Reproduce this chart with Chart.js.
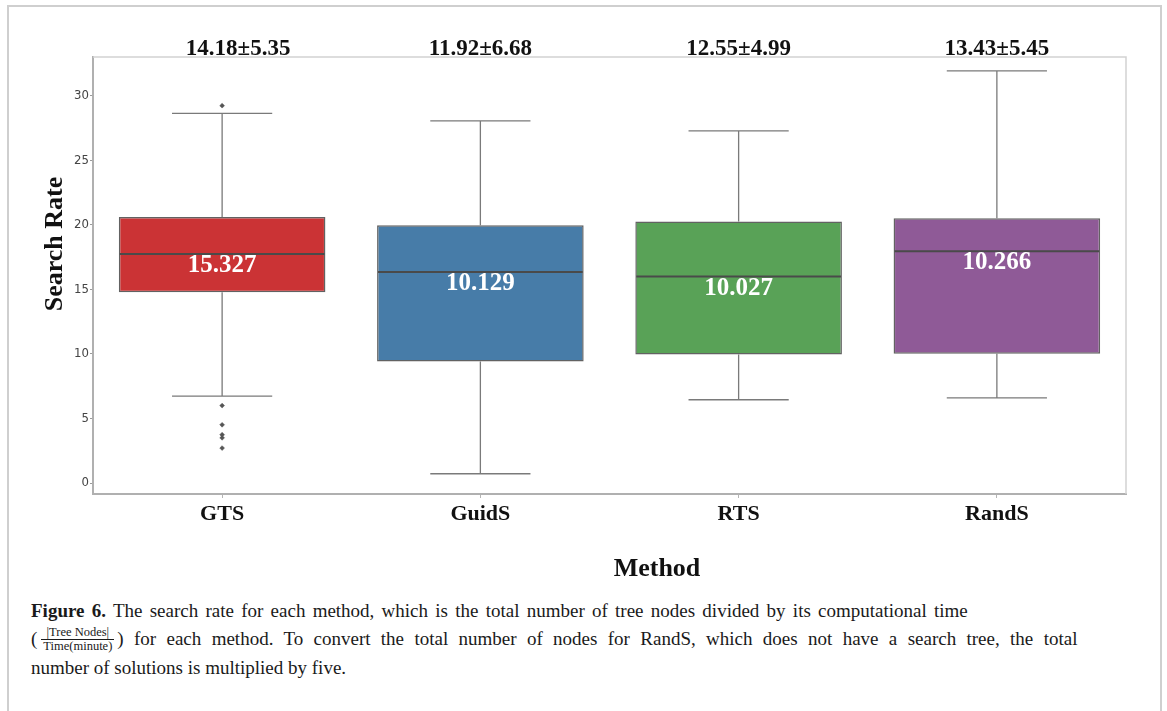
<!DOCTYPE html>
<html>
<head>
<meta charset="utf-8">
<script src="https://cdn.jsdelivr.net/npm/chart.js@4.4.1/dist/chart.umd.min.js"></script>
<style>
  html, body { margin: 0; padding: 0; background: #ffffff; }
  body { width: 1167px; height: 711px; position: relative; overflow: hidden; }
  #frame {
    position: absolute; left: 7px; top: 5px; width: 1155px; height: 720px;
    border: 2px solid #cfcfcf; box-sizing: border-box;
  }
  #wrap { position: absolute; left: 0; top: 0; width: 1167px; height: 590px; }
  #caption {
    position: absolute; left: 31px; top: 597px; width: 1125px;
    font-family: "Liberation Serif", serif; font-size: 19px;
    line-height: 28px; color: #1a1a1a; white-space: nowrap;
  }
  #caption b { font-weight: bold; }
  #caption .l1 { word-spacing: 2.5px; }
  #caption .l2 { word-spacing: 5.6px; }
  .frac {
    display: inline-block; vertical-align: middle; text-align: center; word-spacing: 0;
    font-size: 12.5px; line-height: 13px; margin: 0 3px 0 4px; position: relative; top: -1px;
  }
  .frac .num { display: block; border-bottom: 1px solid #1a1a1a; padding: 0 2px; }
  .frac .den { display: block; padding: 0 2px; }
</style>
</head>
<body>
<div id="frame"></div>
<div id="wrap"><canvas id="chart" width="1167" height="590"></canvas></div>
<div id="caption">
  <div class="l1"><b>Figure 6.</b> The search rate for each method, which is the total number of tree nodes divided by its computational time</div>
  <div class="l2">(<span class="frac"><span class="num">|Tree Nodes|</span><span class="den">Time(minute)</span></span>) for each method. To convert the total number of nodes for RandS, which does not have a search tree, the total</div>
  <div class="l3">number of solutions is multiplied by five.</div>
</div>
<script>
// Methods compared
const methods = ['GTS', 'GuidS', 'RTS', 'RandS'];

// Box-plot summary of the search rate per method
const whiskerLow  = [6.73, 0.72, 6.45, 6.60];
const quartile1   = [14.78, 9.41, 9.95, 10.02];
const medians     = [17.75, 16.35, 15.99, 17.96];
const quartile3   = [20.60, 19.97, 20.25, 20.51];
const whiskerHigh = [28.64, 28.05, 27.27, 31.93];

// Outlying runs (GTS only)
const outlierMethod = ['GTS', 'GTS', 'GTS', 'GTS', 'GTS', 'GTS'];
const outlierValue  = [29.23, 6.00, 4.51, 3.74, 3.50, 2.71];

// Mean ± standard deviation printed above each box
const means = [14.18, 11.92, 12.55, 13.43];
const stds  = [5.35, 6.68, 4.99, 5.45];

// Value printed inside each box
const boxValues = ['15.327', '10.129', '10.027', '10.266'];

// Y-axis tick values
const yTicks = [0, 5, 10, 15, 20, 25, 30];

const boxColors = ['#CB3335', '#477CA8', '#59A257', '#8F5A97'];

const serifBold = '"Liberation Serif", "DejaVu Serif", serif';

const boxPlotPlugin = {
  id: 'boxPlotParts',
  beforeDatasetsDraw(chart) {
    const { ctx, chartArea, scales } = chart;
    const y = scales.y;
    ctx.save();
    // light frame on the top and right of the plotting area
    ctx.strokeStyle = '#d2d2d2';
    ctx.lineWidth = 1.5;
    ctx.beginPath();
    ctx.moveTo(chartArea.left, chartArea.top);
    ctx.lineTo(chartArea.right, chartArea.top);
    ctx.lineTo(chartArea.right, chartArea.bottom);
    ctx.stroke();

    // whiskers and caps
    const bars = chart.getDatasetMeta(0).data;
    ctx.strokeStyle = '#7a7a7a';
    ctx.lineWidth = 1.3;
    bars.forEach((bar, i) => {
      const half = bar.width / 2;
      const capHalf = half * 0.485;
      const yLo = y.getPixelForValue(whiskerLow[i]);
      const yQ1 = y.getPixelForValue(quartile1[i]);
      const yQ3 = y.getPixelForValue(quartile3[i]);
      const yHi = y.getPixelForValue(whiskerHigh[i]);
      ctx.beginPath();
      ctx.moveTo(bar.x, yQ3); ctx.lineTo(bar.x, yHi);
      ctx.moveTo(bar.x, yQ1); ctx.lineTo(bar.x, yLo);
      ctx.moveTo(bar.x - capHalf, yHi); ctx.lineTo(bar.x + capHalf, yHi);
      ctx.moveTo(bar.x - capHalf, yLo); ctx.lineTo(bar.x + capHalf, yLo);
      ctx.stroke();
    });
    ctx.restore();
  },
  afterDatasetsDraw(chart) {
    const { ctx, chartArea, scales } = chart;
    const y = scales.y;
    const bars = chart.getDatasetMeta(0).data;
    ctx.save();
    bars.forEach((bar, i) => {
      const half = bar.width / 2;
      const yMed = y.getPixelForValue(medians[i]);
      // median line
      ctx.strokeStyle = '#4a4a4a';
      ctx.lineWidth = 2;
      ctx.beginPath();
      ctx.moveTo(bar.x - half + 1, yMed);
      ctx.lineTo(bar.x + half - 1, yMed);
      ctx.stroke();
      // value inside the box
      ctx.fillStyle = '#ffffff';
      ctx.font = 'bold 25px ' + serifBold;
      ctx.textAlign = 'center';
      ctx.textBaseline = 'alphabetic';
      ctx.fillText(boxValues[i], bar.x, yMed + 18);
      // mean ± std above the plot
      ctx.fillStyle = '#111111';
      ctx.font = 'bold 23px ' + serifBold;
      ctx.fillText(means[i].toFixed(2) + '\u00B1' + stds[i].toFixed(2), bar.x + (i === 0 ? 16 : 0), chartArea.top - 2.5);
    });

    // axis titles
    ctx.fillStyle = '#111111';
    ctx.font = 'bold 26px ' + serifBold;
    ctx.textAlign = 'center';
    ctx.textBaseline = 'middle';
    ctx.fillText('Method', 657, 569);
    ctx.translate(55, 244);
    ctx.rotate(-Math.PI / 2);
    ctx.fillText('Search Rate', 0, 0);
    ctx.restore();
  }
};

const chart = new Chart(document.getElementById('chart'), {
  type: 'bar',
  data: {
    labels: methods,
    datasets: [
      {
        type: 'bar',
        data: methods.map((m, i) => [quartile1[i], quartile3[i]]),
        backgroundColor: boxColors,
        borderColor: '#626262',
        borderWidth: 1.5,
        borderSkipped: false,
        categoryPercentage: 0.8,
        barPercentage: 1.0,
        grouped: false,
        order: 2
      },
      {
        type: 'scatter',
        data: outlierMethod.map((m, i) => ({ x: m, y: outlierValue[i] })),
        pointStyle: 'rectRot',
        pointRadius: 2.4,
        pointBackgroundColor: '#555555',
        pointBorderColor: '#555555',
        pointBorderWidth: 0.5,
        order: 1
      }
    ]
  },
  options: {
    responsive: false,
    animation: false,
    events: [],
    layout: { padding: { top: 57, right: 41, left: 0, bottom: 0 } },
    plugins: { legend: { display: false }, tooltip: { enabled: false } },
    scales: {
      x: {
        type: 'category',
        offset: true,
        grid: { display: true, offset: false, drawOnChartArea: false, drawTicks: true, tickLength: 4, color: '#b5b5b5' },
        border: { display: true, color: '#b0b0b0', width: 2 },
        ticks: {
          color: '#111111',
          font: { family: serifBold, size: 22, weight: 'bold' },
          padding: 3
        },
        afterFit(scale) { scale.height = 96; }
      },
      y: {
        min: -0.85,
        max: 33.0,
        grid: { display: true, drawOnChartArea: false, drawTicks: true, tickLength: 3, color: '#9a9a9a' },
        border: { display: true, color: '#b0b0b0', width: 2 },
        afterBuildTicks(scale) { scale.ticks = yTicks.map(v => ({ value: v })); },
        ticks: {
          color: '#444444',
          font: { family: '"DejaVu Sans Condensed", "DejaVu Sans", sans-serif', size: 13 },
          padding: 1
        },
        afterFit(scale) { scale.width = 93; }
      }
    }
  },
  plugins: [boxPlotPlugin]
});
</script>
</body>
</html>
